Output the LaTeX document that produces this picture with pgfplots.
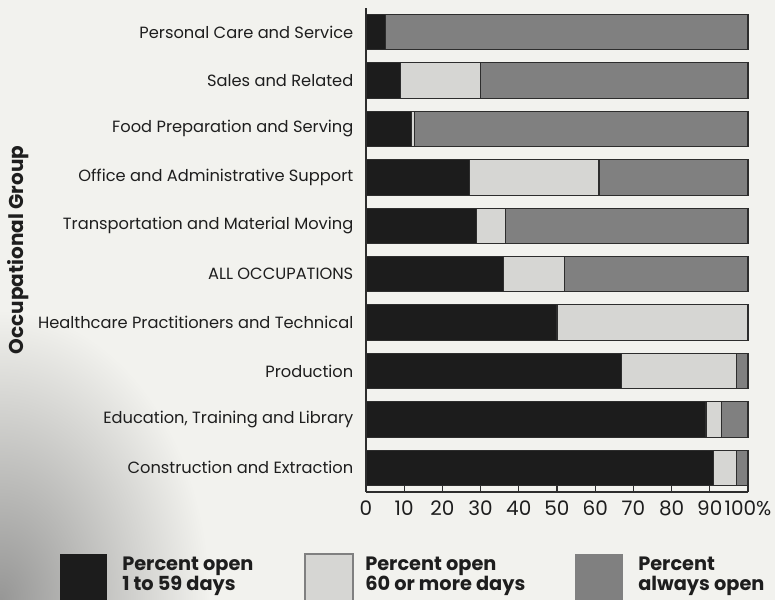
\documentclass[border=0pt]{standalone}
\usepackage{fontspec}
\setmainfont{Poppins}
\usepackage{pgfplots}
\pgfplotsset{compat=1.18}
\definecolor{bg}{RGB}{242,242,238}
\definecolor{cblack}{RGB}{28,28,28}
\definecolor{clight}{RGB}{214,214,211}
\definecolor{cdark}{RGB}{128,128,128}
\definecolor{cedge}{RGB}{45,45,45}
\definecolor{ctext}{RGB}{30,30,30}

\pgfplotstableread{
y black light dark
0 91 6 3
1 89 4 7
2 67 30 3
3 50 50 0
4 36 16 48
5 29 7.5 63.5
6 27 34 39
7 12 0.6 87.4
8 9 21 70
9 5 0 95
}\occdata

\begin{document}
\begin{tikzpicture}[x=0.75pt,y=0.75pt]
\path[fill=bg, use as bounding box] (0,0) rectangle (775,600);
\begin{scope}
\clip (0,0) rectangle (775,600);
\shade[inner color=gray!80!bg, outer color=bg] (0,0) ellipse (210 and 290);
\end{scope}
\begin{axis}[
  at={(274.5pt,81pt)}, anchor=south west,
  scale only axis, width=286.5pt, height=363pt,
  xbar stacked, bar width=26.6pt,
  xmin=0, xmax=100, ymin=-0.5, ymax=9.5,
  axis x line*=bottom, axis y line*=left,
  axis line style={cedge, line width=1.3pt},
  xtick={0,10,...,100},
  xticklabels={0,10,20,30,40,50,60,70,80,90,100\%},
  x tick style={cedge, line width=1pt},
  tick align=inside, major tick length=4.5pt,
  ytick={0,...,9},
  yticklabels={Construction and Extraction,{Education, Training and Library},Production,Healthcare Practitioners and Technical,ALL OCCUPATIONS,Transportation and Material Moving,Office and Administrative Support,Food Preparation and Serving,Sales and Related,Personal Care and Service},
  y tick style={draw=none},
  yticklabel style={font=\fontsize{12.2}{14}\selectfont, text=ctext, xshift=-6pt},
  xticklabel style={font=\fontsize{15}{17}\selectfont, text=ctext, yshift=-3pt},
  /pgf/number format/assume math mode=true,
  ylabel={\textbf{Occupational Group}},
  ylabel style={at={(axis description cs:-0.91,0.5)}, anchor=center, font=\fontsize{15}{17}\selectfont, text=ctext},
  clip=false,
]
\addplot[fill=cblack, draw=cedge, line width=0.8pt] table[x=black, y=y] {\occdata};
\addplot[fill=clight, draw=cedge, line width=0.8pt] table[x=light, y=y] {\occdata};
\addplot[fill=cdark, draw=cedge, line width=0.8pt] table[x=dark, y=y] {\occdata};
\end{axis}
% legend
\fill[cblack] (60,-5) rectangle (107,46);
\filldraw[fill=clight, draw=gray, line width=0.8pt] (305,-5) rectangle (353,46);
\fill[cdark] (575,-5) rectangle (623,46);
\begin{scope}[every node/.style={anchor=north west, align=left, inner sep=0pt, text=ctext, font=\bfseries\fontsize{14.5}{14.8}\selectfont}]
\node at (122,43) {Percent open\\1 to 59 days};
\node at (365,43) {Percent open\\60 or more days};
\node at (638,43) {Percent\\always open};
\end{scope}
\end{tikzpicture}
\end{document}
